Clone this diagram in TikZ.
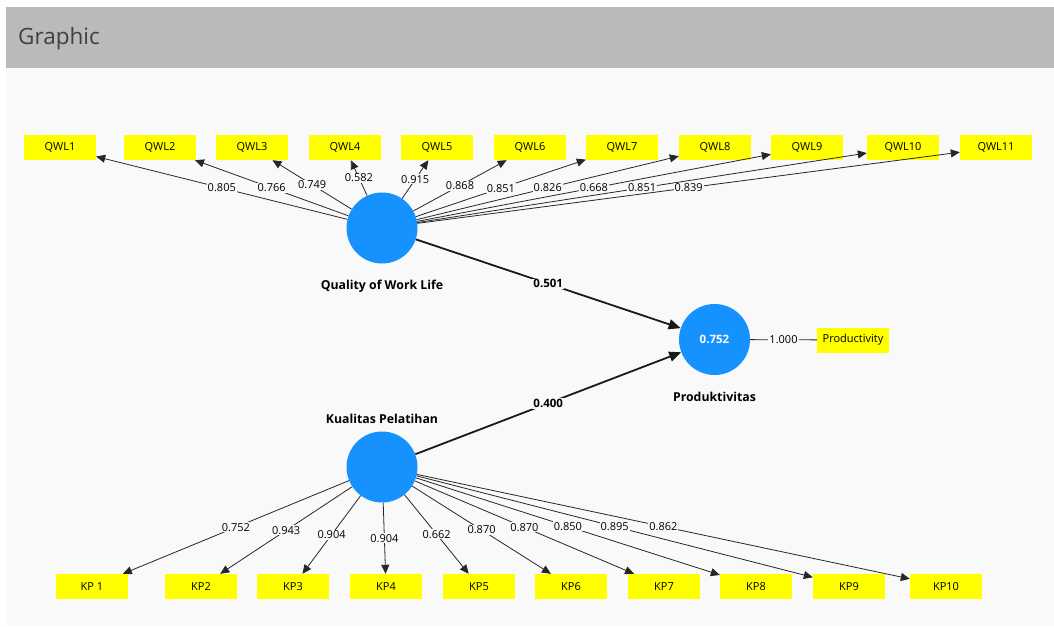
\documentclass[tikz,border=0pt]{standalone}
\usepackage{fontspec}
\setmainfont{Open Sans}
\usetikzlibrary{arrows.meta,positioning}
\definecolor{pagebg}{HTML}{F9F9F9}
\definecolor{barbg}{HTML}{BABABA}
\definecolor{latblue}{RGB}{22,146,255}
\definecolor{indyellow}{HTML}{FFFF00}

\begin{document}
\begin{tikzpicture}[x=1pt, y=-1pt,
      indbox/.style={fill=indyellow, minimum width=72pt, minimum height=25pt, inner sep=0pt, font=\fontsize{11}{12}\selectfont},
      latent/.style={circle, fill=latblue, minimum size=71pt, inner sep=0pt, text=white, font=\bfseries\fontsize{11.5}{12}\selectfont},
      latname/.style={font=\bfseries\fontsize{12.3}{14}\selectfont},
      coef/.style={fill=pagebg, inner sep=1pt, font=\fontsize{11}{12}\selectfont},
      loading/.style={-{Triangle[length=9pt,width=8pt]}, line width=0.8pt, draw=black!85},
      structarrow/.style={-{Triangle[length=12pt,width=10pt]}, line width=1.8pt, draw=black!90}
    ]
    \useasboundingbox (0,0) rectangle (1054,626);
    \fill[white] (0,0) rectangle (1054,626);
    \fill[pagebg] (6,68) rectangle (1054,626);
    \fill[barbg] (6,7) rectangle (1054,68);
    \node[anchor=west, inner sep=0pt, text=black!75, font=\fontsize{22.5}{26}\selectfont] (title) at (18,39) {Graphic};

    \node[latent] (qwl) at (382,228) {};
    \node[latent] (prod) at (714.5,339.5) {0.752};
    \node[latent] (kp) at (382,467) {};
    \node[latname, below=13pt of qwl] (qwlname) {Quality of Work Life};
    \node[latname, below=13pt of prod] (prodname) {Produktivitas};
    \node[latname, above=4pt of kp] (kpname) {Kualitas Pelatihan};

    \foreach \n/\x in {1/60,2/160,3/252,4/345,5/437,6/530,7/622,8/715,9/807,10/903,11/996} {
      \node[indbox] (qwl\n) at (\x,147.5) {QWL\n};
    }
    \foreach \n/\x/\t in {1/92/KP 1,2/201/KP2,3/293/KP3,4/386/KP4,5/479/KP5,6/571/KP6,7/664/KP7,8/756/KP8,9/849/KP9,10/946/KP10} {
      \node[indbox] (kp\n) at (\x,586.5) {\t};
    }
    \node[indbox] (prodind) at (853,340) {Productivity};

    \foreach \n/\v in {1/0.805,2/0.766,3/0.749,4/0.582,5/0.915,6/0.868,7/0.851,8/0.826,9/0.668,10/0.851,11/0.839} {
      \draw[loading] (qwl) -- node[coef] {\v} (qwl\n);
    }
    \foreach \n/\v in {1/0.752,2/0.943,3/0.904,4/0.904,5/0.662,6/0.870,7/0.870,8/0.850,9/0.895,10/0.862} {
      \draw[loading] (kp) -- node[coef] {\v} (kp\n);
    }
    \draw[line width=0.8pt, draw=black!85] (prod) -- node[coef] {1.000} (prodind);

    \draw[structarrow] (qwl) -- node[coef, font=\bfseries\fontsize{11.5}{12}\selectfont] {0.501} (prod);
    \draw[structarrow] (kp) -- node[coef, font=\bfseries\fontsize{11.5}{12}\selectfont] {0.400} (prod);
  \end{tikzpicture}
\end{document}
